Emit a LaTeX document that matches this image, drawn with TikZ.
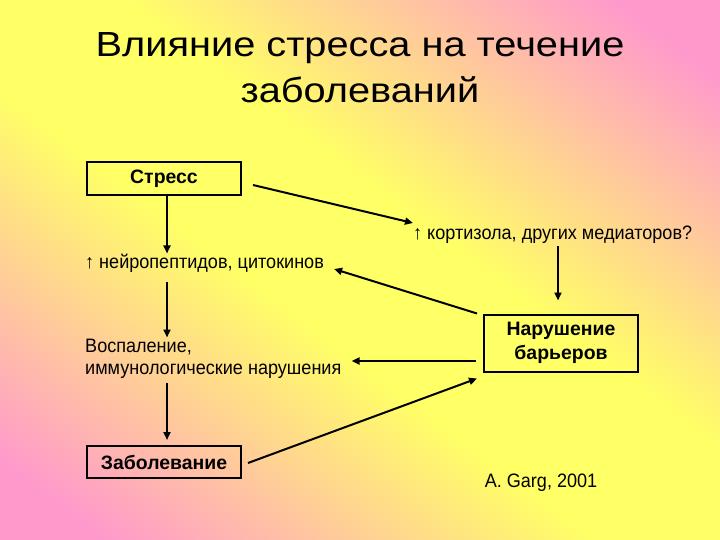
\documentclass[tikz,border=0pt]{standalone}
\usepackage{fontspec}
\setmainfont{Liberation Sans}
\newfontfamily\titlefont{Liberation Sans}[FakeStretch=1.14]
\newfontfamily\bodyfont{Liberation Sans}[FakeStretch=0.93]
\usepackage{xcolor}
\usepackage{tikz}
\usetikzlibrary{arrows.meta,positioning,calc}
\definecolor{bgyellow}{HTML}{FFFF66}
\definecolor{bgpink}{HTML}{FF99CC}
\pgfdeclarehorizontalshading{slidebg}{100bp}{color(0bp)=(bgpink); color(20bp)=(bgpink); color(44bp)=(bgyellow); color(56bp)=(bgyellow); color(80bp)=(bgpink); color(100bp)=(bgpink)}
\tikzset{
  box/.style={draw,line width=2bp,minimum width=154bp,inner sep=2bp,
              font=\fontsize{19.5}{24}\selectfont\bfseries},
  plain/.style={inner sep=2bp,font=\fontsize{19.5}{22}\bodyfont},
  arr/.style={line width=2bp,-{Triangle[length=8bp,width=7bp]}}
}

\begin{document}
\begin{tikzpicture}[x=1bp,y=-1bp]
  \useasboundingbox (0,0) rectangle (720,540);
  \path[shading=slidebg,shading angle=53] (0,0) rectangle (720,540);

  \node[inner sep=0pt,align=center,font=\fontsize{35}{46}\titlefont]
    (title) at (360,68) {Влияние стресса на течение\\заболеваний};

  \node[box,minimum height=33bp] (stress) at (164,179) {Стресс};
  \node[plain,anchor=west] (neuro) at (83,263) {↑ нейропептидов, цитокинов};
  \node[plain,anchor=west,align=left] (inflam) at (83,359)
    {Воспаление,\\иммунологические нарушения};
  \node[box,minimum height=32bp] (disease) at (164,462) {Заболевание};
  \node[plain,anchor=west] (cortisol) at (411,235) {↑ кортизола, других медиаторов?};
  \node[box,minimum height=57bp,align=center] (barrier) at (561,343)
    {Нарушение\\барьеров};
  \node[plain] (ref) at (541,483) {A. Garg, 2001};

  % left column
  \draw[arr] ($(stress.south)+(3,0)$) -- ($(stress.south)+(3,57)$);
  \draw[arr] ($(stress.south)+(3,85)$) -- ($(stress.south)+(3,141)$);
  \draw[arr] ($(stress.south)+(3,186)$) -- ($(disease.north)+(3,-5)$);
  % cortisol branch
  \draw[arr] ($(stress.east)+(11,6)$) -- ($(cortisol.west)+(2,-12)$);
  \draw[arr] ($(barrier.north)+(-3,-67)$) -- ($(barrier.north)+(-3,-13)$);
  % from barriers
  \draw[arr] ($(barrier.north west)+(-6,0)$) -- ($(neuro.east)+(8,6)$);
  \draw[arr] ($(barrier.west)+(-7,18)$) -- ($(inflam.east)+(8,2)$);
  \draw[arr] ($(disease.east)+(6,1)$) -- ($(barrier.south west)+(-6,6)$);
\end{tikzpicture}
\end{document}
